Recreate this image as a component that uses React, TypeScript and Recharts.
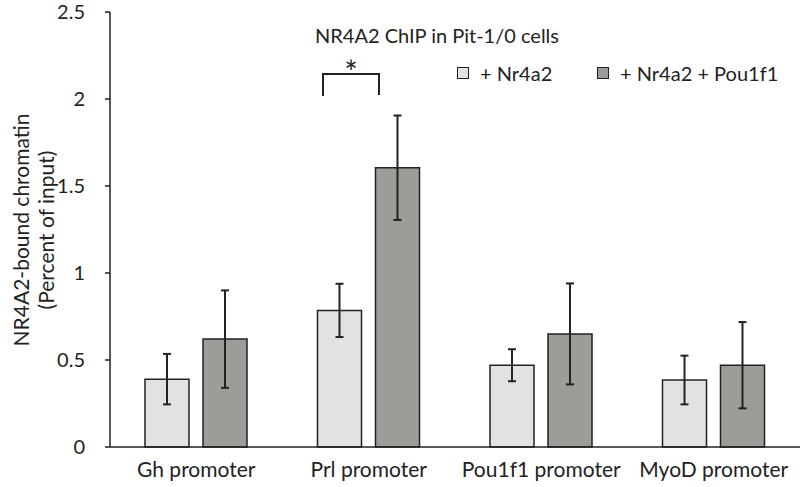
import { BarChart, Bar, XAxis, YAxis, ErrorBar } from 'recharts';

const categories = ['Gh promoter', 'Prl promoter', 'Pou1f1 promoter', 'MyoD promoter'];
const nr4a2Values = [0.39, 0.785, 0.47, 0.385];
const nr4a2Errors = [0.145, 0.153, 0.092, 0.14];
const pou1f1Values = [0.62, 1.605, 0.65, 0.47];
const pou1f1Errors = [0.28, 0.3, 0.29, 0.248];
const yTicks = [0, 0.5, 1, 1.5, 2, 2.5];

const seriesNames = ['+ Nr4a2', '+ Nr4a2 + Pou1f1'];
const LIGHT = '#e2e3e0';
const DARK = '#9d9c98';
const INK = '#222';
const FONT = 'Lato, "Open Sans", sans-serif';

const data = categories.map((name, i) => ({
  name,
  a: nr4a2Values[i],
  aErr: nr4a2Errors[i],
  b: pou1f1Values[i],
  bErr: pou1f1Errors[i],
}));

// legend sits inside the plot, top right
const legendLeft = [457, 597];

const renderYLabel = () => (
  <g fontFamily={FONT} fontSize={21} fill={INK}>
    <text x={20} y={230} transform="rotate(-90, 20, 230)" textAnchor="middle" dominantBaseline="central">
      NR4A2-bound chromatin
    </text>
    <text x={45} y={230} transform="rotate(-90, 45, 230)" textAnchor="middle" dominantBaseline="central">
      (Percent of input)
    </text>
  </g>
);

export default function App() {
  return (
    <div style={{ position: 'absolute', left: 0, top: 0, width: 800, height: 487, background: '#fff' }}>
      <BarChart
        width={800}
        height={487}
        data={data}
        margin={{ top: 12, right: 0, bottom: 0, left: 0 }}
        barGap={14}
        barSize={44}
      >
        <XAxis
          dataKey="name"
          height={40}
          tickLine={false}
          axisLine={{ stroke: INK, strokeWidth: 1.5 }}
          tick={{ fill: INK, fontSize: 21, fontFamily: FONT }}
          tickSize={0}
          tickMargin={15}
          interval={0}
        />
        <YAxis
          width={110}
          domain={[0, 2.5]}
          ticks={yTicks}
          tickSize={5}
          tickMargin={20}
          tickLine={{ stroke: INK, strokeWidth: 1.5 }}
          axisLine={{ stroke: INK, strokeWidth: 1.5 }}
          tick={{ fill: INK, fontSize: 20, fontFamily: FONT }}
          label={{ content: renderYLabel }}
        />
        <Bar dataKey="a" name={seriesNames[0]} fill={LIGHT} stroke={INK} strokeWidth={1.5} isAnimationActive={false}>
          <ErrorBar dataKey="aErr" width={4} stroke={INK} strokeWidth={2} />
        </Bar>
        <Bar dataKey="b" name={seriesNames[1]} fill={DARK} stroke={INK} strokeWidth={1.5} isAnimationActive={false}>
          <ErrorBar dataKey="bErr" width={4} stroke={INK} strokeWidth={2} />
        </Bar>
      </BarChart>
      <div
        style={{
          position: 'absolute',
          left: 315,
          top: 23,
          fontFamily: FONT,
          fontSize: 20,
          color: INK,
          whiteSpace: 'nowrap',
        }}
      >
        NR4A2 ChIP in Pit-1/0 cells
      </div>
      {seriesNames.map((n, i) => (
        <div
          key={n}
          style={{
            position: 'absolute',
            left: legendLeft[i],
            top: 61,
            display: 'flex',
            alignItems: 'center',
            fontFamily: FONT,
            fontSize: 20,
            color: INK,
            whiteSpace: 'nowrap',
          }}
        >
          <div
            style={{
              width: 10,
              height: 10,
              border: `1.5px solid ${INK}`,
              background: i === 0 ? LIGHT : DARK,
              marginRight: 11,
            }}
          />
          <span>{n}</span>
        </div>
      ))}
      <svg style={{ position: 'absolute', left: 0, top: 0 }} width={800} height={487}>
        <polyline points="323,96 323,74 379,74 379,95" fill="none" stroke={INK} strokeWidth={2} />
        <text x={351} y={84} textAnchor="middle" fontFamily={FONT} fontSize={32} fill={INK}>
          *
        </text>
      </svg>
    </div>
  );
}
